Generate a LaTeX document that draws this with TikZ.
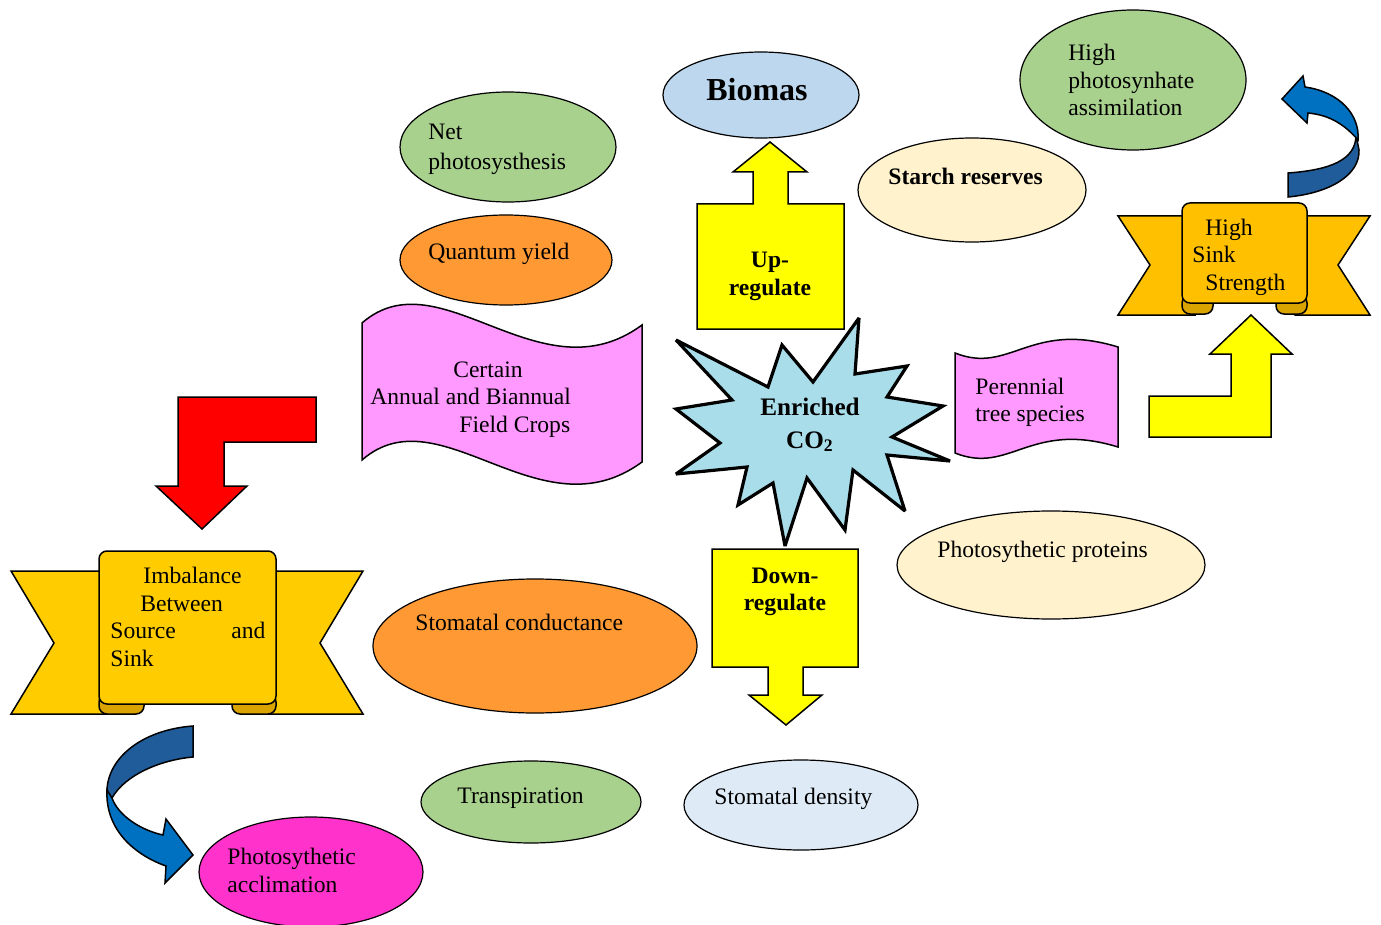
\documentclass[tikz,border=0pt]{standalone}
\usepackage{fontspec}
\setmainfont{Liberation Serif}
\usetikzlibrary{shapes.geometric}
\definecolor{cgreen}{HTML}{A9D18E}
\definecolor{corange}{HTML}{FF9933}
\definecolor{cbiom}{HTML}{BDD7EE}
\definecolor{ccream}{HTML}{FFF2CC}
\definecolor{cpaleblue}{HTML}{DEEBF7}
\definecolor{cmagenta}{HTML}{FF33CC}
\definecolor{cpink}{HTML}{FF99FF}
\definecolor{cyellow}{HTML}{FFFF00}
\definecolor{cgoldA}{HTML}{FFCC00}
\definecolor{cgoldB}{HTML}{FFC000}
\definecolor{cfold}{HTML}{D9A300}
\definecolor{cblue}{HTML}{0070C0}
\definecolor{cdblue}{HTML}{1F5C99}
\definecolor{cstar}{HTML}{A9DDEA}
\begin{document}
\begin{tikzpicture}[x=0.5pt,y=-0.5pt,
  ell/.style={ellipse, draw=black, line width=0.6pt, inner sep=0pt},
  shp/.style={draw=black, line width=0.75pt, line join=miter},
  txt/.style={anchor=base west, inner sep=0pt, font=\fontsize{11.8}{14}\selectfont},
  btxt/.style={anchor=base, inner sep=0pt, font=\fontsize{11.8}{14}\selectfont\bfseries},
]
\useasboundingbox (0,0) rectangle (1381,925);

% ellipses
\node[ell, fill=cbiom, minimum width=98pt, minimum height=43pt] (biomas) at (761,95) {};
\node[ell, fill=cgreen, minimum width=108pt, minimum height=55pt] (netph) at (508,147) {};
\node[ell, fill=corange, minimum width=106pt, minimum height=45pt] (quant) at (506,260) {};
\node[ell, fill=cgreen, minimum width=113pt, minimum height=70pt] (highph) at (1133,80) {};
\node[ell, fill=ccream, minimum width=114pt, minimum height=52pt] (starch) at (972,190) {};
\node[ell, fill=ccream, minimum width=154pt, minimum height=54pt] (proteins) at (1051,565) {};
\node[ell, fill=corange, minimum width=162pt, minimum height=67pt] (stomcond) at (535,646) {};
\node[ell, fill=cgreen, minimum width=110pt, minimum height=41pt] (transp) at (531,802) {};
\node[ell, fill=cpaleblue, minimum width=117pt, minimum height=45pt] (stomdens) at (801,805) {};
\node[ell, fill=cmagenta, minimum width=112pt, minimum height=55pt] (acclim) at (311,872) {};

% up arrow
\draw[shp, fill=cyellow] (697,204) -- (753,204) -- (753,172) -- (733,172) -- (770,142) -- (807,172) -- (788,172) -- (788,204) -- (844,204) -- (844,329) -- (697,329) -- cycle;
% down arrow
\draw[shp, fill=cyellow] (712,549) -- (858,549) -- (858,667) -- (803,667) -- (803,695) -- (822,695) -- (786,725) -- (749,695) -- (768,695) -- (768,667) -- (712,667) -- cycle;
% red arrow
\draw[shp, fill=red] (178,397) -- (316,397) -- (316,442) -- (224,442) -- (224,486) -- (247,486) -- (202,529) -- (156,486) -- (178,486) -- cycle;
% yellow L arrow
\draw[shp, fill=cyellow] (1149,396) -- (1231,396) -- (1231,354) -- (1210,354) -- (1251,315) -- (1292,354) -- (1271,354) -- (1271,437) -- (1149,437) -- cycle;

% starburst
\draw[draw=black, line width=1.6pt, line join=miter, miter limit=3, fill=cstar]
 (676,340) -- (768,387) -- (782,345) -- (813,382) -- (859,318) -- (855,374) -- (907,366) -- (887,397) -- (943,406) -- (892,437) -- (950,461) -- (887,455) -- (905,511) -- (853,470) -- (845,530) -- (807,478) -- (785,546) -- (773,483) -- (738,505) -- (747,467) -- (676,474) -- (720,443) -- (676,409) -- (732,400) -- cycle;

% pink waves
\draw[shp, fill=cpink] (362,323) .. controls (440,255) and (540,400) .. (642,325) -- (642,462) .. controls (540,537) and (440,392) .. (362,460) -- cycle;
\draw[shp, fill=cpink] (955,353) .. controls (1010,375) and (1030,320) .. (1118,347) -- (1118,447) .. controls (1030,420) and (1010,475) .. (955,453) -- cycle;

% ribbon: imbalance
\draw[shp, fill=cgoldA] (11,571) -- (110,571) -- (110,714) -- (11,714) -- (54,643) -- cycle;
\draw[shp, fill=cgoldA] (363,571) -- (265,571) -- (265,714) -- (363,714) -- (320,643) -- cycle;
\draw[shp, fill=cfold, rounded corners=4pt] (99,694) rectangle (144,714);
\draw[shp, fill=cfold, rounded corners=4pt] (232,694) rectangle (276,714);
\draw[shp, fill=cgoldA, rounded corners=4pt] (99,704) -- (99,551) -- (276,551) -- (276,704) -- cycle;

% ribbon: high sink
\draw[shp, fill=cgoldB] (1118,216) -- (1195,216) -- (1195,315) -- (1118,315) -- (1150,265) -- cycle;
\draw[shp, fill=cgoldB] (1370,216) -- (1295,216) -- (1295,315) -- (1370,315) -- (1338,265) -- cycle;
\draw[shp, fill=cfold, rounded corners=4pt] (1182,295) rectangle (1213,314);
\draw[shp, fill=cfold, rounded corners=4pt] (1276,295) rectangle (1307,314);
\draw[shp, fill=cgoldB, rounded corners=4pt] (1182,303) -- (1182,203) -- (1307,203) -- (1307,303) -- cycle;

% blue curved arrow upper right
\draw[shp, fill=cdblue] (1356,135) .. controls (1356,160) and (1330,170) .. (1288,173) -- (1288,197) .. controls (1330,193) and (1360,175) .. (1359,150) -- cycle;
\draw[shp, fill=cblue] (1282,99) -- (1303,76) -- (1305,87) .. controls (1340,92) and (1360,115) .. (1358,140) .. controls (1345,125) and (1330,115) .. (1308,113) -- (1307,123) -- cycle;

% blue curved arrow lower left
\draw[shp, fill=cdblue] (193,726) .. controls (140,730) and (105,760) .. (107,795) -- (112,798) .. controls (125,775) and (160,760) .. (193,757) -- cycle;
\draw[shp, fill=cblue] (107,790) .. controls (105,830) and (135,855) .. (166,866) -- (165,883) -- (193,855) -- (166,819) -- (163,835) .. controls (140,830) and (118,815) .. (112,798) -- cycle;

% texts
\node[txt] (t-net1) at (428,140) {Net};
\node[txt] (t-net2) at (428,170) {photosysthesis};
\node[txt] (t-quant) at (428,260) {Quantum yield};
\node[anchor=base, inner sep=0pt, font=\fontsize{11.8}{14}\selectfont] (t-cert1) at (488,377) {Certain};
\node[txt] (t-cert2) at (370,404) {Annual and Biannual};
\node[txt] (t-cert3) at (459,432) {Field Crops};
\node[anchor=base, inner sep=0pt, font=\fontsize{16}{18}\selectfont\bfseries] (t-biomas) at (757,101) {Biomas};
\node[btxt] (t-up1) at (770,268) {Up-};
\node[btxt] (t-up2) at (770,296) {regulate};
\node[anchor=base, inner sep=0pt, font=\fontsize{12.6}{15}\selectfont\bfseries] (t-enr1) at (810,415) {Enriched};
\node[anchor=base, inner sep=0pt, font=\fontsize{12.6}{15}\selectfont\bfseries] (t-enr2) at (810,448) {CO\textsubscript{2}};
\node[txt, font=\fontsize{11.8}{14}\selectfont\bfseries] (t-starch) at (888,185) {Starch reserves};
\node[txt] (t-hp1) at (1068,61) {High};
\node[txt] (t-hp2) at (1068,89) {photosynhate};
\node[txt] (t-hp3) at (1068,116) {assimilation};
\node[txt] (t-hs1) at (1205,236) {High};
\node[txt] (t-hs2) at (1192,263) {Sink};
\node[txt] (t-hs3) at (1205,291) {Strength};
\node[txt] (t-per1) at (975,394) {Perennial};
\node[txt] (t-per2) at (975,421) {tree species};
\node[txt] (t-prot) at (937,557) {Photosythetic proteins};
\node[btxt] (t-dn1) at (785,583) {Down-};
\node[btxt] (t-dn2) at (785,610) {regulate};
\node[txt] (t-im1) at (143,583) {Imbalance};
\node[txt] (t-im2) at (140,611) {Between};
\node[txt] (t-im3) at (110,638) {Source};
\node[txt] (t-im4) at (231,638) {and};
\node[txt] (t-im5) at (110,666) {Sink};
\node[txt] (t-stc) at (415,630) {Stomatal conductance};
\node[txt] (t-tr) at (457,803) {Transpiration};
\node[txt] (t-sd) at (714,804) {Stomatal density};
\node[txt] (t-ac1) at (227,864) {Photosythetic};
\node[txt] (t-ac2) at (227,892) {acclimation};
\end{tikzpicture}
\end{document}
